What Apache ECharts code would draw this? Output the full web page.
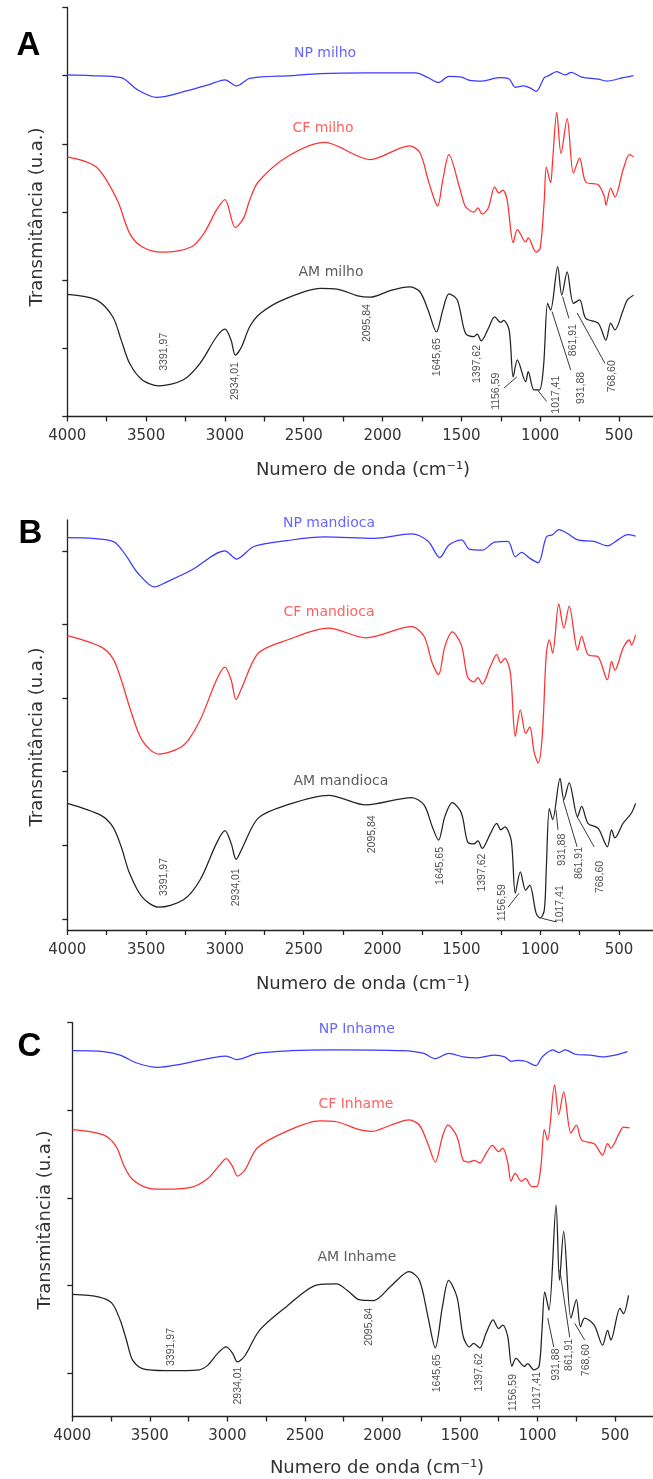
<!DOCTYPE html>
<html><head><meta charset="utf-8">
<script src="https://cdn.jsdelivr.net/npm/echarts@6/dist/echarts.min.js"></script>
<style>html,body{margin:0;padding:0;background:#fff}#c{width:653px;height:1479px}</style>
</head><body><div id="c"></div>
<script>
// ---------- tick values ----------
const xTickValues = [500,750,1000,1250,1500,1750,2000,2250,2500,2750,3000,3250,3500,3750,4000];
const xLabelValues = [500,1000,1500,2000,2500,3000,3500,4000];
const yTicksA = [0,10,20,30,40,50,60];
const yTicksB = [0,10,20,30,40,50];
const yTicksC = [0,10,20,30,40];

// ---------- Panel A : milho ----------
const npMilho = [[4000,50.1],[3850,50.0],[3658,49.7],[3553,47.9],[3434,46.8],[3237,47.8],[3100,48.7],[3000,49.4],[2926,48.5],[2842,49.6],[2579,50.0],[2395,50.3],[2100,50.4],[1895,50.4],[1790,50.4],[1710,49.7],[1645,49.0],[1579,49.9],[1500,49.8],[1447,49.3],[1368,49.2],[1263,49.7],[1197,49.5],[1158,48.3],[1105,48.5],[1065,48.2],[1026,47.7],[974,49.7],[947,50.0],[895,50.6],[842,50.1],[803,50.5],[737,49.8],[632,49.5],[579,49.2],[474,49.7],[408,50.0]];
const cfMilho = [[4000,38.1],[3816,36.6],[3684,31.8],[3605,26.9],[3526,24.9],[3395,24.1],[3211,24.9],[3132,26.9],[3053,30.3],[3000,31.8],[2934,27.7],[2882,29.1],[2842,31.8],[2789,34.4],[2605,38.1],[2368,40.2],[2079,37.7],[1829,39.7],[1763,38.7],[1711,34.7],[1671,31.8],[1650,30.9],[1618,34.7],[1579,38.4],[1513,33.7],[1490,31.8],[1474,30.8],[1421,30.0],[1395,30.6],[1368,29.7],[1329,30.6],[1289,33.7],[1263,32.8],[1237,33.2],[1210,31.8],[1171,25.5],[1145,27.4],[1092,25.6],[1076,26.2],[1026,24.1],[1000,24.7],[974,31.8],[961,36.6],[934,34.3],[921,37.6],[895,44.6],[868,38.6],[829,43.7],[789,35.7],[750,37.9],[711,34.4],[632,34.0],[592,32.2],[583,31.0],[553,33.5],[526,32.2],[474,36.2],[434,38.4],[408,38.1]];
const amMilho = [[4000,17.9],[3816,17.1],[3711,14.6],[3658,11.2],[3605,7.8],[3526,5.4],[3421,4.5],[3263,5.4],[3158,7.8],[3053,11.7],[3000,12.8],[2961,11.2],[2934,9.0],[2895,10.2],[2842,13.2],[2776,15.1],[2632,17.1],[2395,18.8],[2289,18.7],[2158,17.7],[2079,17.5],[1947,18.5],[1829,19.0],[1763,18.3],[1711,15.6],[1658,12.4],[1618,15.6],[1579,18.0],[1526,17.1],[1474,12.2],[1421,11.7],[1400,12.1],[1374,11.1],[1329,12.9],[1289,14.6],[1250,13.8],[1232,14.1],[1197,12.7],[1171,5.8],[1145,8.3],[1092,5.1],[1076,6.6],[1039,3.9],[1005,3.9],[979,7.3],[953,16.6],[934,15.6],[889,22.0],[863,17.8],[829,21.2],[789,16.6],[750,17.1],[711,14.4],[632,13.7],[583,11.2],[553,13.7],[526,12.7],[474,15.6],[447,17.1],[408,17.8]];

// ---------- Panel B : mandioca ----------
const npMandioca = [[4000,51.8],[3711,51.3],[3632,49.5],[3553,47.0],[3447,45.1],[3368,45.8],[3211,47.4],[3000,50.0],[2926,48.9],[2816,50.6],[2605,51.4],[2368,51.9],[2053,51.7],[1816,52.3],[1711,51.3],[1637,49.1],[1579,50.8],[1500,51.5],[1447,50.2],[1368,50.1],[1289,51.2],[1205,51.3],[1158,49.2],[1118,49.8],[1066,49.0],[1013,48.4],[961,51.9],[921,52.2],[882,52.9],[829,52.4],[763,51.5],[658,51.3],[574,50.7],[500,51.6],[447,52.2],[395,52.0]];
const cfMandioca = [[4000,38.5],[3789,37.0],[3711,35.4],[3658,32.5],[3605,28.8],[3526,24.3],[3421,22.4],[3263,23.6],[3158,27.0],[3053,32.5],[3000,34.2],[2961,32.5],[2929,29.8],[2895,31.3],[2789,36.1],[2605,37.9],[2342,39.5],[2105,38.2],[1816,39.7],[1737,38.4],[1684,34.7],[1645,33.2],[1605,37.0],[1558,39.0],[1500,37.2],[1461,32.9],[1421,32.2],[1395,32.8],[1368,31.9],[1316,34.3],[1276,35.9],[1250,34.8],[1224,35.4],[1189,33.4],[1158,24.8],[1126,28.4],[1092,25.2],[1066,26.1],[1039,22.7],[1013,21.2],[987,24.8],[961,36.1],[942,37.9],[921,36.1],[882,42.8],[850,39.5],[816,42.5],[763,36.5],[737,38.4],[697,35.9],[632,35.6],[574,32.5],[547,35.0],[526,33.8],[474,36.8],[434,37.9],[421,37.2],[395,38.6]];
const amMandioca = [[4000,15.7],[3789,14.1],[3711,12.5],[3658,9.8],[3605,6.2],[3526,3.0],[3421,1.6],[3263,2.6],[3158,5.3],[3053,10.3],[3000,12.0],[2961,10.3],[2929,8.1],[2895,9.4],[2789,13.7],[2605,15.5],[2342,16.8],[2105,15.5],[1816,16.5],[1737,15.5],[1684,12.5],[1645,10.7],[1605,13.9],[1558,15.8],[1500,14.4],[1461,10.5],[1421,10.2],[1395,10.6],[1368,9.6],[1316,11.6],[1276,13.0],[1250,12.1],[1224,12.5],[1184,10.7],[1158,3.5],[1126,6.4],[1092,3.9],[1066,4.6],[1026,0.8],[1000,0.1],[974,1.2],[961,7.0],[942,15.0],[921,13.5],[874,19.1],[850,16.2],[816,18.5],[763,13.9],[737,15.3],[697,13.0],[632,12.3],[574,9.8],[547,12.1],[526,11.0],[474,13.0],[421,14.4],[395,15.7]];

// ---------- Panel C : inhame ----------
const npInhame = [[4000,36.8],[3799,36.7],[3692,36.3],[3584,35.4],[3450,34.9],[3289,35.3],[3008,36.2],[2941,35.8],[2807,36.5],[2592,36.8],[2324,36.9],[1868,36.8],[1734,36.5],[1659,35.9],[1573,36.5],[1479,36.1],[1385,36.0],[1278,36.3],[1211,36.1],[1171,35.6],[1130,35.7],[1077,35.6],[1010,35.1],[969,36.1],[902,36.9],[862,36.6],[822,36.9],[755,36.4],[661,36.3],[580,36.1],[500,36.3],[420,36.7]];
const cfInhame = [[4000,27.8],[3799,27.2],[3718,25.9],[3665,23.6],[3611,22.1],[3504,21.1],[3397,21.0],[3236,21.2],[3128,22.2],[3048,23.8],[3008,24.5],[2967,23.6],[2935,22.5],[2887,23.2],[2807,25.7],[2619,27.6],[2404,28.8],[2297,28.7],[2149,27.8],[2069,27.6],[1948,28.3],[1828,28.9],[1761,28.3],[1707,26.2],[1659,24.1],[1613,27.0],[1578,28.3],[1519,27.0],[1479,24.3],[1439,24.1],[1407,24.3],[1372,24.0],[1331,25.1],[1291,26.0],[1251,25.3],[1224,25.7],[1192,24.1],[1171,21.9],[1144,22.8],[1104,21.9],[1077,22.2],[1037,21.3],[1005,21.3],[978,23.6],[956,27.8],[935,26.6],[890,32.9],[863,29.5],[831,32.1],[784,27.4],[749,28.3],[715,26.6],[634,26.2],[580,24.9],[548,26.2],[527,25.7],[473,27.4],[446,28.1],[406,28.0]];
const amInhame = [[4000,9.0],[3826,8.7],[3745,8.0],[3692,6.1],[3651,3.8],[3611,1.5],[3544,0.5],[3397,0.3],[3182,0.4],[3128,0.9],[3061,2.3],[3008,3.0],[2967,2.3],[2935,1.3],[2887,2.0],[2793,4.9],[2619,7.6],[2418,10.1],[2297,10.2],[2216,9.3],[2149,8.4],[2056,8.3],[1948,9.9],[1828,11.6],[1761,10.6],[1707,6.5],[1659,2.9],[1613,7.6],[1573,10.6],[1519,8.7],[1479,4.2],[1439,3.0],[1412,3.4],[1372,2.9],[1331,4.6],[1286,6.1],[1251,5.1],[1224,5.5],[1192,4.2],[1165,0.8],[1138,1.7],[1085,0.8],[1063,1.1],[1024,0.4],[990,0.8],[971,4.9],[953,9.3],[926,7.2],[880,19.2],[858,10.6],[831,16.2],[784,6.3],[749,8.4],[723,5.3],[696,6.3],[634,5.5],[580,3.2],[548,4.9],[527,3.8],[468,7.4],[446,6.8],[413,8.9]];

// ---------- annotations: [text, wavenumber, value] ----------
const peaksA = [['3391,97',3383,9.5],['2934,01',2934,5.2],['2095,84',2101,13.7],['1645,65',1651,8.7],['1397,62',1401,7.7],['1156,59',1282,3.7],['1017,41',900,3.2],['931,88',741,4.2],['861,91',792,11.2],['768,60',541,5.9]];
const peaksB = [['3391,97',3383,5.7],['2934,01',2930,4.3],['2095,84',2067,11.5],['1645,65',1638,7.2],['1397,62',1366,6.3],['1156,59',1242,2.2],['1017,41',874,2.0],['931,88',858,9.4],['861,91',754,7.6],['768,60',621,5.7]];
const peaksC = [['3391,97',3365,3.0],['2934,01',2932,-1.4],['2095,84',2089,5.3],['1645,65',1646,0.0],['1397,62',1379,0.1],['1156,59',1159,-2.2],['1017,41',1001,-2.0],['931,88',882,1.0],['861,91',798,2.1],['768,60',689,1.5]];
const leadersA = [[1229,4.2,1148,5.8],[1017,3.9,959,2.2],[925,15.4,806,6.8],[858,17.6,818,14.4],[766,15.2,589,7.8]];
const leadersB = [[1204,1.6,1134,3.5],[990,0.1,900,-0.4],[900,14.8,887,12.1],[855,16.2,766,9.8],[766,13.9,658,9.8]];
const leadersC = [[934,6.3,895,3.0],[856,11.8,792,4.1],[760,5.7,696,3.8]];
const namesA = [['NP milho',2365,53.3],['CF milho',2378,42.3],['AM milho',2327,21.2]];
const namesB = [['NP mandioca',2340,53.8],['CF mandioca',2340,41.6],['AM mandioca',2264,18.7]];
const namesC = [['NP Inhame',2165,39.2],['CF Inhame',2171,30.7],['AM Inhame',2165,13.2]];

const BLUE = '#3a3aff', RED = '#ff3030', BLACK = '#222222';
const nameColors = ['#4040ff', '#ff3a3a', '#333333'];

const chart = echarts.init(document.getElementById('c'), null, {renderer: 'canvas'});

function xAxis(gi, min) {
  return {
    type: 'value', gridIndex: gi, min: min, max: 4000, inverse: true,
    axisLine: {show: true, onZero: false, lineStyle: {color: '#222', width: 1.3}},
    axisTick: {show: true, length: 5, inside: false, customValues: xTickValues, lineStyle: {color: '#222', width: 1.3}},
    axisLabel: {show: true, customValues: xLabelValues, formatter: v => String(v), fontSize: 15,
      fontFamily: 'DejaVu Sans', color: '#333', margin: 12.5},
    splitLine: {show: false}
  };
}
function yAxis(gi, min, max, ticks) {
  return {
    type: 'value', gridIndex: gi, min: min, max: max,
    axisLine: {show: true, onZero: false, lineStyle: {color: '#222', width: 1.3}},
    axisTick: {show: true, length: 5, customValues: ticks, lineStyle: {color: '#222', width: 1.3}},
    axisLabel: {show: false},
    splitLine: {show: false}
  };
}
function line(idx, data, color) {
  return {type: 'line', xAxisIndex: idx, yAxisIndex: idx, data: data, showSymbol: false, symbol: 'none',
    smooth: 0.3, lineStyle: {color: color, width: 1.25}, silent: true, animation: false, z: 3};
}
function peaks(idx, list, leaders) {
  return {
    type: 'scatter', xAxisIndex: idx, yAxisIndex: idx, symbolSize: 0, silent: true, animation: false, z: 5,
    data: list.map(p => ({name: p[0], value: [p[1], p[2]]})),
    label: {show: true, position: 'inside', rotate: 90, formatter: '{b}', fontSize: 10.5,
      fontFamily: 'Liberation Sans', color: '#222'},
    markLine: {silent: true, animation: false, symbol: ['none', 'none'], label: {show: false},
      lineStyle: {color: '#222', width: 0.9, type: 'solid'},
      data: leaders.map(l => [{coord: [l[0], l[1]]}, {coord: [l[2], l[3]]}])}
  };
}
function names(idx, list) {
  return {
    type: 'scatter', xAxisIndex: idx, yAxisIndex: idx, symbolSize: 0, silent: true, animation: false, z: 5,
    data: list.map((p, i) => ({name: p[0], value: [p[1], p[2]], label: {color: nameColors[i]}})),
    label: {show: true, position: 'inside', formatter: '{b}', fontSize: 14, fontFamily: 'DejaVu Sans'}
  };
}

const titleStyle = {fill: '#333', font: '18px "DejaVu Sans"', align: 'center', verticalAlign: 'middle'};
function yTitle(x, y) {
  return {type: 'text', x: x, y: y, rotation: Math.PI / 2, silent: true,
    style: Object.assign({text: 'Transmitância (u.a.)'}, titleStyle)};
}
function xTitle(x, y) {
  return {type: 'text', x: x, y: y, silent: true,
    style: Object.assign({text: 'Numero de onda (cm⁻¹)'}, titleStyle)};
}
function letter(t, x, y) {
  return {type: 'text', x: x, y: y, silent: true,
    style: {text: t, fill: '#000', font: 'bold 33px "Liberation Sans"', align: 'center', verticalAlign: 'middle'}};
}

chart.setOption({
  animation: false,
  grid: [
    {left: 67.3, top: 7.5, width: 585.6, height: 409},
    {left: 67.3, top: 520, width: 585.6, height: 410},
    {left: 72.3, top: 1022.7, width: 581, height: 393.8}
  ],
  xAxis: [xAxis(0, 285), xAxis(1, 285), xAxis(2, 255)],
  yAxis: [yAxis(0, 0, 60, yTicksA), yAxis(1, -1.5, 54.2, yTicksB), yAxis(2, -4.93, 40, yTicksC)],
  series: [
    line(0, npMilho, BLUE), line(0, cfMilho, RED), line(0, amMilho, BLACK),
    line(1, npMandioca, BLUE), line(1, cfMandioca, RED), line(1, amMandioca, BLACK),
    line(2, npInhame, BLUE), line(2, cfInhame, RED), line(2, amInhame, BLACK),
    peaks(0, peaksA, leadersA), peaks(1, peaksB, leadersB), peaks(2, peaksC, leadersC),
    names(0, namesA), names(1, namesB), names(2, namesC)
  ],
  graphic: [
    letter('A', 28.5, 46), letter('B', 30.5, 534), letter('C', 29.5, 1047),
    yTitle(37.5, 217), yTitle(37, 737), yTitle(45, 1220),
    xTitle(363, 470), xTitle(363, 984), xTitle(377, 1468)
  ]
});
</script></body></html>
